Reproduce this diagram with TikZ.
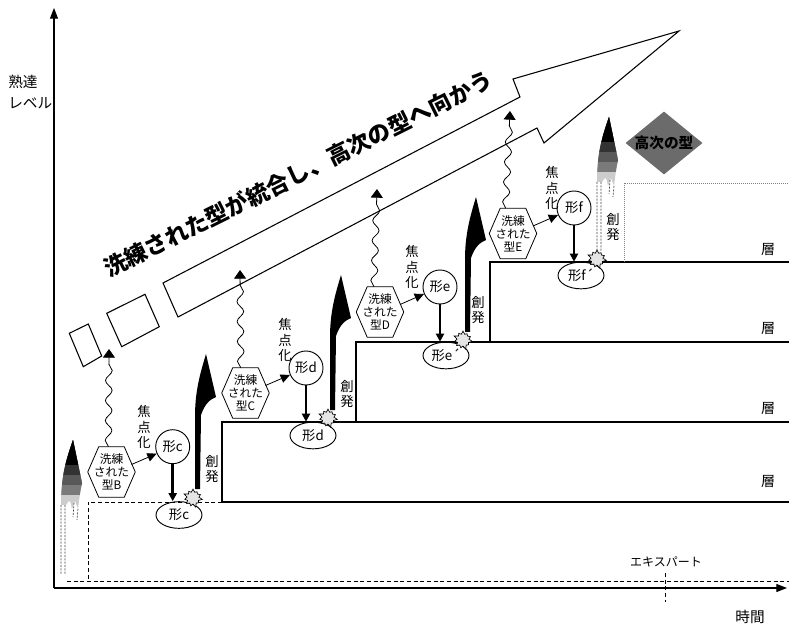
\documentclass[tikz,border=0pt]{standalone}
\usepackage{fontspec}
\newfontfamily\jp{Noto Sans CJK JP}
\usetikzlibrary{arrows.meta,shapes.geometric,shapes.symbols,decorations.pathmorphing,calc}
\newcommand\hexdraw[1]{\draw[line width=0.6pt] (#1.west) -- ([xshift=8.25pt]#1.north west) -- ([xshift=-8.25pt]#1.north east) -- (#1.east) -- ([xshift=-8.25pt]#1.south east) -- ([xshift=8.25pt]#1.south west) -- cycle;}
\begin{document}
\begin{tikzpicture}[x=0.75pt,y=-0.75pt,
  every node/.style={font=\jp},
  stepl/.style={line width=0.9pt},
  dashl/.style={line width=0.6pt, dash pattern=on 3pt off 2pt},
  dotl/.style={line width=0.5pt, gray, densely dotted},
  axisl/.style={line width=0.8pt, -{Triangle[width=6pt,length=8pt]}},
  hexbox/.style={minimum width=35.25pt, minimum height=37.5pt, inner sep=0pt, align=center, font=\jp\fontsize{8.8}{9.75}\selectfont},
  formc/.style={circle, draw, line width=0.7pt, minimum size=25.5pt, inner sep=0pt, font=\jp\fontsize{10}{12}\selectfont},
  forme/.style={ellipse, draw, line width=0.7pt, minimum width=34.5pt, minimum height=20pt, inner sep=0pt, font=\jp\fontsize{10}{12}\selectfont},
  burst/.style={starburst, draw, fill=gray!20, starburst points=11, starburst point height=3pt, minimum size=15pt, inner sep=0pt, line width=0.5pt},
  wave/.style={line width=0.6pt, decorate, decoration={snake, amplitude=2.5pt, segment length=15pt, post length=6pt}, -{Triangle[width=9pt,length=6.5pt]}},
  focus/.style={line width=0.6pt, -{Triangle[width=6.5pt,length=7pt]}},
  down/.style={line width=2.2pt, -{Triangle[width=6pt,length=6pt]}},
  vtext/.style={align=center, inner sep=0pt, font=\jp\fontsize{10}{11.5}\selectfont},
  layer/.style={inner sep=0pt, font=\jp\fontsize{10.5}{12}\selectfont},
  emerge/.pic={\fill[black] (0,0) -- (0,-72) .. controls (0,-98) and (5,-115) .. (11,-135) -- (21,-92) .. controls (16,-90) and (10,-86) .. (6,-74) -- (5,0) -- cycle;},
  ghost/.pic={\begin{scope}
    \clip (0,-70) .. controls (0,-98) and (5,-115) .. (12,-135) -- (21,-92) .. controls (19,-82) .. (17,-66) -- (14,-74) -- (11,-66) .. controls (9,-76) .. (5,-70) -- cycle;
    \fill[gray!40] (-5,-140) rectangle (25,-50);
    \fill[black!52] (-5,-140) rectangle (25,-80);
    \fill[black!65] (-5,-140) rectangle (25,-90);
    \fill[black!80] (-5,-140) rectangle (25,-100);
    \fill[black] (-5,-140) rectangle (25,-110);
    \end{scope}
    \draw[gray!50!black, line width=0.5pt, dash pattern=on 1.5pt off 1pt] (0,-70) -- (0,0) (4,-70) -- (4,0) (17,-66) -- (16,-55) (13,-72) -- (12,-58);}
]
\useasboundingbox (0,0) rectangle (789,627);

% axes
\coordinate (O) at (54,588);
\coordinate (xend) at (787,588);
\coordinate (yend) at (54,8);
\draw[axisl] (O) -- (xend);
\draw[axisl] (O) -- (yend);
\node[align=left, anchor=west, inner sep=0pt, font=\jp\fontsize{11}{15.75}\selectfont] (ylab) at (8,92.5) {熟達\\レベル};
\node[font=\jp\fontsize{11}{13}\selectfont] (xlab) at (750,617) {時間};
\node[font=\jp\fontsize{9}{11}\selectfont] (expert) at (666,562) {エキスパート};
\draw[dashl] (665,573) -- (665,602);

% steps
\draw[dashl] (67,581) -- (789,581);
\draw[dashl] (222,502) -- (88,502) -- (88,581);
\draw[stepl] (222,502) -- (789,502);
\draw[stepl] (222,502) -- (222,422) -- (789,422);
\draw[stepl] (356,422) -- (356,342) -- (789,342);
\draw[stepl] (490,342) -- (490,262) -- (789,262);
\draw[dotl] (624,262) -- (624,183) -- (789,183);
\node[layer] (L1) at (768,482) {層};
\node[layer] (L2) at (768,409) {層};
\node[layer] (L3) at (768,329) {層};
\node[layer] (L4) at (768,250) {層};

% big arrow
\draw[line width=0.8pt] (163,283) -- (520,97) -- (513,79) -- (679,31) -- (544,143) -- (537,128) -- (178,317) -- cycle;
\draw[line width=0.8pt] (106.7,313.3) -- (145,294.3) -- (159.3,326.7) -- (121.7,346.7) -- cycle;
\draw[line width=0.8pt] (69.3,333.3) -- (88.3,324) -- (101.7,356) -- (83.3,366.7) -- cycle;
\node[rotate=26.5, font=\jp\bfseries\fontsize{17}{19}\selectfont] (bigtext) at (298,174) {洗練された型が統合し、高次の型へ向かう};

% higher form
\node[diamond, fill=black!58, minimum width=57.75pt, minimum height=47.25pt, inner sep=0pt] (hidia) at (664,143) {};
\node[font=\jp\bfseries\fontsize{11}{13}\selectfont] (hitext) at (hidia) {高次の型};

% hexagons
\node[hexbox] (hB) at (111.5,472) {洗練\\された\\型B};
\node[hexbox] (hC) at (245.5,393) {洗練\\された\\型C};
\node[hexbox] (hD) at (380,312) {洗練\\された\\型D};
\node[hexbox] (hE) at (513,233.5) {洗練\\された\\型E};
\hexdraw{hB}\hexdraw{hC}\hexdraw{hD}\hexdraw{hE}

% waves
\coordinate (tB) at (109,349);
\coordinate (tC) at (240,270);
\coordinate (tD) at (377,189);
\coordinate (tE) at (510,111);
\draw[wave] ([xshift=-2.25pt]hB.north) -- (tB);
\draw[wave] ([xshift=-3.5pt]hC.north) -- (tC);
\draw[wave] ([xshift=-4.5pt]hD.north) -- (tD);
\draw[wave] ([xshift=-5.5pt]hE.north) -- (tE);

% circles
\node[formc] (cc) at (172.7,446.7) {形c};
\node[formc] (cd) at (306,368) {形d};
\node[formc] (ce) at (440,287) {形e};
\node[formc] (cf) at (574,208) {形f};
\draw[focus] ([shift={(20,-7.5)}]hB.center) -- (cc);
\draw[focus] ([shift={(20,-7.5)}]hC.center) -- (cd);
\draw[focus] ([shift={(20,-7.5)}]hD.center) -- (ce);
\draw[focus] ([shift={(20,-7.5)}]hE.center) -- (cf);
\node[vtext] (fB) at (144,427) {焦\\点\\化};
\node[vtext] (fC) at (285,340) {焦\\点\\化};
\node[vtext] (fD) at (412,267) {焦\\点\\化};
\node[vtext] (fE) at (552,188) {焦\\点\\化};

% ellipses
\node[forme] (ec) at (179,515) {形c};
\node[forme] (ed) at (313,435.5) {形d};
\node[forme] (ee) at (446,355.5) {形e´};
\node[forme] (ef) at (581,275.5) {形f´};
\draw[down] (cc.south) -- (cc.south |- ec.north);
\draw[down] (cd.south) -- (cd.south |- ed.north);
\draw[down] (ce.south) -- (ce.south |- ee.north);
\draw[down] (cf.south) -- (cf.south |- ef.north);

% emergence arrows
\pic at (195,489) {emerge};
\pic at (330,410) {emerge};
\pic at (465,332) {emerge};
\pic at (597,252) {ghost};
\pic at (61,575) {ghost};
\node[burst] (sc) at (193,498) {};
\node[burst] (sd) at (328,418) {};
\node[burst] (se) at (463,340) {};
\node[burst] (sf) at (597,259) {};
\node[vtext] (ecl) at (212,469) {創\\発};
\node[vtext] (edl) at (347,394) {創\\発};
\node[vtext] (eel) at (478,310) {創\\発};
\node[vtext] (efl) at (613,227) {創\\発};
\end{tikzpicture}
\end{document}
